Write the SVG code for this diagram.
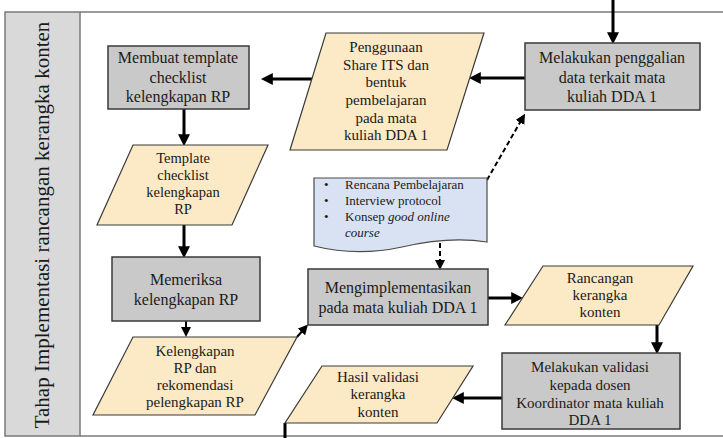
<svg xmlns="http://www.w3.org/2000/svg" width="723" height="438" viewBox="0 0 723 438">
  <defs>
    <marker id="head" markerUnits="userSpaceOnUse" markerWidth="12" markerHeight="12" viewBox="0 0 10 10" refX="4" refY="5" orient="auto">
      <path d="M0,0 L10,5 L0,10 Z" fill="#000"/>
    </marker>
    <marker id="headSmall" markerUnits="userSpaceOnUse" markerWidth="10" markerHeight="10" viewBox="0 0 10 10" refX="4" refY="5" orient="auto">
      <path d="M0,0 L10,5 L0,10 Z" fill="#000"/>
    </marker>
  </defs>
  <style>
    .proc { fill: #c9c9c9; stroke: #3a3a3a; stroke-width: 1.5; }
    .data { fill: #fce9c5; stroke: #3a3a3a; stroke-width: 1.2; }
    .doc { fill: #d8e2f3; stroke: #4a4a4a; stroke-width: 1.2; }
    .lbl { font-family: "Liberation Serif", "Times New Roman", serif; fill: #1a1a1a; text-anchor: middle; }
    .p16 { font-size: 16px; }
    .p15 { font-size: 15px; }
    .p14 { font-size: 14.5px; }
    .doctext { font-family: "Liberation Serif", "Times New Roman", serif; font-size: 13px; fill: #1a1a1a; }
    .flow { stroke: #000; stroke-width: 3; fill: none; marker-end: url(#head); }
    .dash { stroke: #000; stroke-width: 2; stroke-dasharray: 5 3; fill: none; marker-end: url(#headSmall); }
  </style>

  <rect width="723" height="438" fill="#fff"/>

  <!-- swimlane frame -->
  <g id="lane">
    <rect x="5" y="12" width="75" height="424" fill="#d9d9d9" stroke="#7a7a7a" stroke-width="1.5"/>
    <line x1="80" y1="12" x2="723" y2="12" stroke="#7a7a7a" stroke-width="1.5"/>
    <line x1="80" y1="436" x2="723" y2="436" stroke="#7a7a7a" stroke-width="1.5"/>
    <text class="lbl" x="0" y="0" font-size="21" transform="translate(49,225) rotate(-90)">Tahap Implementasi rancangan kerangka konten</text>
  </g>

  <!-- connectors -->
  <g id="connectors">
    <line class="flow" x1="613" y1="0" x2="613" y2="37"/>
    <line class="flow" x1="525" y1="78" x2="476" y2="78"/>
    <line class="flow" x1="312" y1="79" x2="268" y2="79"/>
    <line class="flow" x1="184" y1="109" x2="184" y2="139"/>
    <line class="flow" x1="184" y1="225" x2="184" y2="251"/>
    <line class="flow" x1="186" y1="321" x2="186" y2="331" style="stroke-width:2; marker-end:url(#headSmall)"/>
    <line class="flow" x1="297" y1="337" x2="304" y2="329" style="stroke-width:2; marker-end:url(#headSmall)"/>
    <line class="flow" x1="488" y1="298" x2="516" y2="298"/>
    <line class="flow" x1="657" y1="325" x2="657" y2="347"/>
    <line class="flow" x1="502" y1="398" x2="459" y2="398"/>
    <line x1="285" y1="423" x2="285" y2="438" stroke="#000" stroke-width="3"/>
    <line class="dash" x1="487" y1="180" x2="522" y2="119"/>
    <line class="dash" x1="440" y1="243" x2="440" y2="264"/>
  </g>

  <!-- process steps -->
  <g id="n-penggalian">
    <rect class="proc" x="525" y="43" width="175" height="67"/>
    <text class="lbl p16" x="612" y="63">Melakukan penggalian</text>
    <text class="lbl p16" x="612" y="83">data terkait mata</text>
    <text class="lbl p16" x="612" y="102">kuliah  DDA 1</text>
  </g>

  <g id="n-share">
    <polygon class="data" points="326,33 484,33 447,150 290,150"/>
    <text class="lbl p15" x="386" y="52">Penggunaan</text>
    <text class="lbl p15" x="386" y="70">Share ITS  dan</text>
    <text class="lbl p15" x="386" y="87">bentuk</text>
    <text class="lbl p15" x="386" y="105">pembelajaran</text>
    <text class="lbl p15" x="386" y="123">pada mata</text>
    <text class="lbl p15" x="386" y="140">kuliah DDA 1</text>
  </g>

  <g id="n-membuat">
    <rect class="proc" x="108" y="46" width="141" height="63"/>
    <text class="lbl p16" x="178" y="63">Membuat template</text>
    <text class="lbl p16" x="178" y="83">checklist</text>
    <text class="lbl p16" x="178" y="102">kelengkapan RP</text>
  </g>

  <g id="n-template">
    <polygon class="data" points="133,145 268,145 232,225 97,225"/>
    <text class="lbl p14" x="183" y="163">Template</text>
    <text class="lbl p14" x="183" y="180">checklist</text>
    <text class="lbl p14" x="183" y="197">kelengkapan</text>
    <text class="lbl p14" x="183" y="214">RP</text>
  </g>

  <g id="n-memeriksa">
    <rect class="proc" x="112" y="257" width="148" height="64"/>
    <text class="lbl p16" x="186" y="285">Memeriksa</text>
    <text class="lbl p16" x="186" y="305">kelengkapan RP</text>
  </g>

  <g id="n-kelengkapan">
    <polygon class="data" points="133,337 297,337 255,415 93,415"/>
    <text class="lbl p15" x="195" y="356">Kelengkapan</text>
    <text class="lbl p15" x="195" y="373">RP  dan</text>
    <text class="lbl p15" x="195" y="390">rekomendasi</text>
    <text class="lbl p15" x="195" y="407">pelengkapan RP</text>
  </g>

  <g id="n-dokumen">
    <path class="doc" d="M314,178 H487 V242 C462,238 432,240 402,247 C370,254 342,253 314,246 Z"/>
    <text class="doctext" x="324" y="189">•</text>
    <text class="doctext" x="345" y="189">Rencana Pembelajaran</text>
    <text class="doctext" x="324" y="205">•</text>
    <text class="doctext" x="345" y="205">Interview protocol</text>
    <text class="doctext" x="324" y="221">•</text>
    <text class="doctext" x="345" y="221">Konsep <tspan font-style="italic">good online</tspan></text>
    <text class="doctext" x="345" y="237" font-style="italic">course</text>
  </g>

  <g id="n-implementasi">
    <rect class="proc" x="308" y="269" width="180" height="56"/>
    <text class="lbl p16" x="398" y="293">Mengimplementasikan</text>
    <text class="lbl p16" x="398" y="313">pada mata kuliah DDA 1</text>
  </g>

  <g id="n-rancangan">
    <polygon class="data" points="543,266 693,266 659,325 505,325"/>
    <text class="lbl p15" x="600" y="283">Rancangan</text>
    <text class="lbl p15" x="600" y="300">kerangka</text>
    <text class="lbl p15" x="600" y="317">konten</text>
  </g>

  <g id="n-validasi">
    <rect class="proc" x="502" y="353" width="178" height="76"/>
    <text class="lbl p15" x="590" y="372">Melakukan validasi</text>
    <text class="lbl p15" x="590" y="390">kepada dosen</text>
    <text class="lbl p15" x="590" y="408">Koordinator mata kuliah</text>
    <text class="lbl p15" x="590" y="425">DDA 1</text>
  </g>

  <g id="n-hasil">
    <polygon class="data" points="322,366 473,366 437,423 285,423"/>
    <text class="lbl p15" x="378" y="382">Hasil validasi</text>
    <text class="lbl p15" x="378" y="399">kerangka</text>
    <text class="lbl p15" x="378" y="417">konten</text>
  </g>
</svg>
